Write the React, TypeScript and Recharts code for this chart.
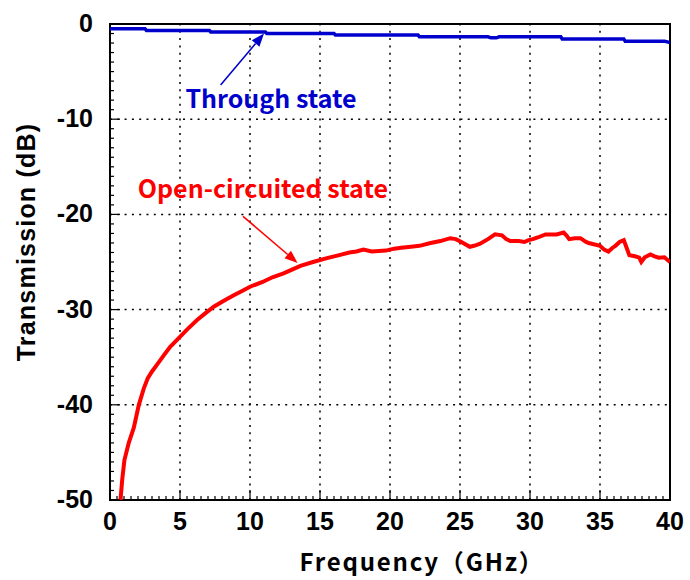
import React from "react";
import {
  LineChart,
  Line,
  XAxis,
  YAxis,
  ReferenceLine,
  ReferenceArea,
  ReferenceDot,
  Label,
} from "recharts";

// ---- data ----
const throughFreq = [0, 2.5, 2.6, 7.1, 7.2, 11.1, 11.2, 16.0, 16.1, 22.0, 22.1, 27.0, 27.2, 27.6, 27.8, 32.2, 32.3, 36.7, 36.8, 39.6, 40];
const throughDb = [-0.5, -0.5, -0.68, -0.68, -0.84, -0.84, -1.0, -1.0, -1.15, -1.15, -1.35, -1.35, -1.45, -1.45, -1.35, -1.35, -1.58, -1.58, -1.8, -1.8, -1.95];

const openFreq = [0.75, 0.87, 1.03, 1.34, 1.7, 2.06, 2.41, 2.7, 3.0, 3.4, 3.84, 4.3, 4.91, 5.5, 6.22, 6.8, 7.41, 8.1, 8.84, 9.5, 10.0, 10.9, 11.6, 12.4, 13.0, 13.6, 14.5, 15.5, 16.3, 17.1, 17.6, 18.1, 18.7, 19.7, 20.3, 20.8, 21.5, 22.1, 22.9, 23.6, 24.3, 24.7, 25.1, 25.7, 26.0, 26.4, 27.0, 27.5, 28.0, 28.3, 28.6, 29.2, 29.6, 29.9, 30.2, 30.6, 31.1, 31.5, 31.9, 32.4, 32.6, 32.8, 33.2, 33.6, 34.0, 34.2, 35.0, 35.3, 35.6, 35.9, 36.1, 36.4, 36.7, 36.9, 37.1, 37.5, 37.8, 37.95, 38.2, 38.6, 38.9, 39.2, 39.6, 40];
const openDb = [-50, -47.9, -45.8, -44.0, -42.4, -40.0, -38.3, -37.2, -36.5, -35.7, -34.8, -33.9, -33.0, -32.1, -31.1, -30.4, -29.7, -29.1, -28.5, -28.0, -27.6, -27.1, -26.6, -26.2, -25.8, -25.4, -25.0, -24.6, -24.3, -24.0, -23.9, -23.7, -23.9, -23.8, -23.6, -23.5, -23.4, -23.3, -23.0, -22.8, -22.5, -22.6, -22.9, -23.4, -23.3, -23.1, -22.6, -22.1, -22.2, -22.6, -22.8, -22.8, -22.9, -22.7, -22.6, -22.4, -22.1, -22.1, -22.1, -21.9, -22.2, -22.6, -22.5, -22.5, -22.9, -23.0, -23.3, -23.7, -23.9, -23.5, -23.3, -22.9, -22.7, -23.5, -24.3, -24.4, -24.55, -25.0, -24.5, -24.2, -24.4, -24.55, -24.5, -25.0];

const xTickValues = Array.from({ length: 81 }, (_, i) => i * 0.5);
const yTickValues = Array.from({ length: 51 }, (_, i) => -50 + i);
const xGridValues = [5, 10, 15, 20, 25, 30, 35];
const yGridValues = [-10, -20, -30, -40];

const throughLabel = "Through state";
const openLabel = "Open-circuited state";
const throughArrow = [{ x: 7.9, y: -6.4 }, { x: 11.0, y: -1.0 }];
const openArrow = [{ x: 9.5, y: -20.2 }, { x: 13.4, y: -25.1 }];
const throughLabelPos = { x: 11.5, y: -7.92 };
const openLabelPos = { x: 10.92, y: -17.31 };

const throughData = throughFreq.map((f, i) => ({ f, v: throughDb[i] }));
const openData = openFreq.map((f, i) => ({ f, v: openDb[i] }));

// ---- styles ----
const NUM_FONT = "'Liberation Sans', Arial, sans-serif";
const JP_FONT = "'Noto Sans CJK JP', 'Noto Sans', sans-serif";
const BLUE = "#0000CD";
const RED = "#FF0000";

const isMajorX = (v: number) => Math.abs(v % 5) < 1e-9;
const isMajorY = (v: number) => Math.abs(v % 10) < 1e-9;

const BottomTick = (props: any) => {
  const { x, y, payload } = props;
  const v = payload.value;
  const major = isMajorX(v);
  return (
    <g>
      <line x1={x} y1={y} x2={x} y2={y - (major ? 10 : 4)} stroke="#000" strokeWidth={1.2} />
      {major && (
        <text x={x} y={y + 30} textAnchor="middle" fontFamily={NUM_FONT} fontWeight="bold" fontSize={25} fill="#000">
          {v}
        </text>
      )}
    </g>
  );
};

const TopTick = (props: any) => {
  const { x, y, payload } = props;
  const major = isMajorX(payload.value);
  return <line x1={x} y1={y} x2={x} y2={y + (major ? 10 : 4)} stroke="#000" strokeWidth={1.2} />;
};

const LeftTick = (props: any) => {
  const { x, y, payload } = props;
  const v = payload.value;
  const major = isMajorY(v);
  return (
    <g>
      <line x1={x} y1={y} x2={x + (major ? 10 : 4)} y2={y} stroke="#000" strokeWidth={1.2} />
      {major && (
        <text x={x - 17} y={y + 8} textAnchor="end" fontFamily={NUM_FONT} fontWeight="bold" fontSize={25} fill="#000">
          {v}
        </text>
      )}
    </g>
  );
};

const RightTick = (props: any) => {
  const { x, y, payload } = props;
  const major = isMajorY(payload.value);
  return <line x1={x} y1={y} x2={x - (major ? 10 : 4)} y2={y} stroke="#000" strokeWidth={1.2} />;
};

const arrowShape = (color: string) => (p: any) => {
  const { x1, y1, x2, y2 } = p;
  const dx = x2 - x1;
  const dy = y2 - y1;
  const len = Math.sqrt(dx * dx + dy * dy) || 1;
  const ux = dx / len;
  const uy = dy / len;
  const hl = 13;
  const hw = 5;
  const bx = x2 - ux * hl;
  const by = y2 - uy * hl;
  const pts = `${x2},${y2} ${bx - uy * hw},${by + ux * hw} ${bx + uy * hw},${by - ux * hw}`;
  return (
    <g>
      <line x1={x1} y1={y1} x2={bx} y2={by} stroke={color} strokeWidth={1.6} />
      <polygon points={pts} fill={color} />
    </g>
  );
};

const textShape = (label: string, color: string) => (p: any) => (
  <text x={p.cx} y={p.cy + 9} textAnchor="middle" fontFamily={JP_FONT} fontWeight="bold" fontSize={25} fill={color}>
    {label}
  </text>
);

export default function App() {
  return (
    <div style={{ position: "absolute", left: 0, top: 0, width: 690, height: 580, background: "#fff" }}>
      <LineChart width={690} height={580} margin={{ top: 24, right: 20, bottom: 0, left: 0 }}>
        <XAxis
          xAxisId="b"
          dataKey="f"
          type="number"
          domain={[0, 40]}
          ticks={xTickValues}
          interval={0}
          allowDataOverflow
          height={80}
          axisLine={false}
          tickLine={false}
          tickSize={0}
          tickMargin={0}
          tick={<BottomTick />}
        >
          <Label
            content={() => (
              <text
                x={422}
                y={571}
                textAnchor="middle"
                fontFamily={JP_FONT}
                fontWeight="bold"
                fontSize={24}
                letterSpacing={1.8}
                fill="#000"
              >
                Frequency（GHz）
              </text>
            )}
          />
        </XAxis>
        <XAxis
          xAxisId="t"
          orientation="top"
          dataKey="f"
          type="number"
          domain={[0, 40]}
          ticks={xTickValues}
          interval={0}
          allowDataOverflow
          height={0}
          axisLine={false}
          tickLine={false}
          tickSize={0}
          tickMargin={0}
          tick={<TopTick />}
        />
        <YAxis
          yAxisId="l"
          type="number"
          domain={[-50, 0]}
          ticks={yTickValues}
          interval={0}
          allowDataOverflow
          width={110}
          axisLine={false}
          tickLine={false}
          tickSize={0}
          tickMargin={0}
          tick={<LeftTick />}
        >
          <Label
            content={() => (
              <text
                x={26}
                y={242}
                transform="rotate(-90 26 242)"
                textAnchor="middle"
                dominantBaseline="central"
                fontFamily={NUM_FONT}
                fontWeight="bold"
                fontSize={25}
                letterSpacing={1.2}
                fill="#000"
              >
                Transmission (dB)
              </text>
            )}
          />
        </YAxis>
        <YAxis
          yAxisId="r"
          orientation="right"
          type="number"
          domain={[-50, 0]}
          ticks={yTickValues}
          interval={0}
          allowDataOverflow
          width={0}
          axisLine={false}
          tickLine={false}
          tickSize={0}
          tickMargin={0}
          tick={<RightTick />}
        />

        {xGridValues.map((v) => (
          <ReferenceLine key={`gx${v}`} xAxisId="b" yAxisId="l" x={v} stroke="#000" strokeWidth={1.5} strokeDasharray="2 5.3" />
        ))}
        {yGridValues.map((v) => (
          <ReferenceLine key={`gy${v}`} xAxisId="b" yAxisId="l" y={v} stroke="#000" strokeWidth={1.5} strokeDasharray="2 5.3" />
        ))}

        <Line
          xAxisId="b"
          yAxisId="l"
          data={throughData}
          dataKey="v"
          type="linear"
          stroke={BLUE}
          strokeWidth={3.5}
          dot={false}
          isAnimationActive={false}
        />
        <Line
          xAxisId="b"
          yAxisId="l"
          data={openData}
          dataKey="v"
          type="linear"
          stroke={RED}
          strokeWidth={4}
          dot={false}
          isAnimationActive={false}
        />

        <ReferenceArea
          xAxisId="b"
          yAxisId="l"
          x1={0}
          x2={40}
          y1={-50}
          y2={0}
          fill="none"
          fillOpacity={0}
          stroke="#000"
          strokeWidth={2}
          ifOverflow="visible"
        />

        <ReferenceLine xAxisId="b" yAxisId="l" segment={throughArrow} shape={arrowShape(BLUE)} ifOverflow="visible" />
        <ReferenceLine xAxisId="b" yAxisId="l" segment={openArrow} shape={arrowShape(RED)} ifOverflow="visible" />
        <ReferenceDot
          xAxisId="b"
          yAxisId="l"
          x={throughLabelPos.x}
          y={throughLabelPos.y}
          r={0}
          shape={textShape(throughLabel, BLUE)}
          ifOverflow="visible"
        />
        <ReferenceDot
          xAxisId="b"
          yAxisId="l"
          x={openLabelPos.x}
          y={openLabelPos.y}
          r={0}
          shape={textShape(openLabel, RED)}
          ifOverflow="visible"
        />
      </LineChart>
    </div>
  );
}
